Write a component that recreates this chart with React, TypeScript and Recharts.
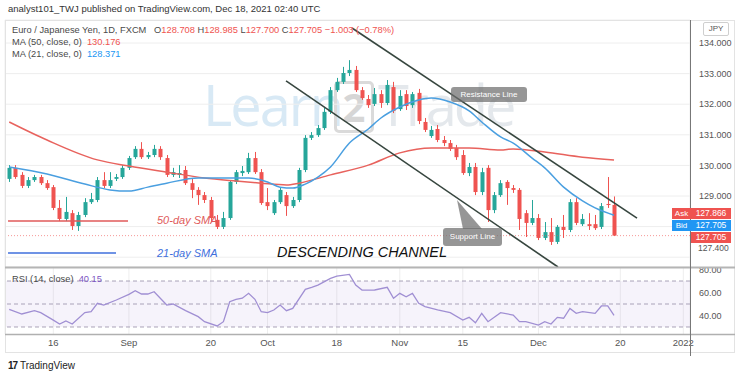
import React from 'react';
import { ComposedChart, Bar, Line, XAxis, YAxis, CartesianGrid, ReferenceLine, ReferenceArea } from 'recharts';

// ---- candles (Aug 5 2021 .. Dec 17 2021, daily) ----
const opens = [
  129.56, 129.92, 129.69, 129.33, 129.52, 129.62, 129.42, 129.29, 128.61, 128.25,
  128.44, 128.02, 128.38, 128.80, 128.87, 129.52, 129.33, 129.56, 129.62, 129.92,
  130.27, 130.54, 130.27, 130.34, 130.54, 130.24, 129.69, 129.69, 129.85, 129.42,
  129.20, 129.03, 128.87, 128.22, 127.99, 128.28, 129.46, 129.75, 129.78, 130.24,
  129.78, 128.80, 128.44, 128.80, 129.03, 128.67, 128.87, 129.85, 130.90, 130.99,
  131.22, 131.75, 132.46, 132.73, 133.02, 133.12, 132.46, 132.17, 132.01, 132.33,
  132.04, 132.56, 131.84, 132.33, 131.97, 132.37, 131.42, 130.96, 131.19, 130.83,
  130.73, 130.57, 130.34, 129.75, 129.95, 129.13, 129.92, 128.54, 129.03, 129.46,
  129.26, 129.20, 128.44, 128.12, 128.28, 127.63, 127.82, 127.50, 127.99, 127.89,
  128.80, 128.08, 128.08, 128.08, 127.99, 128.74, 128.708,
];
const highs = [
  130.01, 130.01, 129.78, 129.62, 129.69, 129.69, 129.52, 129.36, 128.87, 128.97,
  128.54, 128.48, 128.93, 129.10, 129.62, 129.78, 129.78, 129.72, 130.01, 130.31,
  130.63, 130.76, 130.44, 130.67, 130.63, 130.34, 129.92, 130.01, 129.98, 129.59,
  129.29, 129.13, 128.97, 128.38, 128.48, 129.52, 129.85, 129.98, 130.41, 130.44,
  129.88, 129.26, 128.87, 129.29, 129.13, 128.97, 129.92, 130.99, 131.09, 131.32,
  131.88, 132.56, 132.86, 133.22, 133.44, 133.25, 132.56, 132.30, 132.53, 132.46,
  132.79, 132.73, 132.46, 132.46, 132.40, 132.50, 131.55, 131.29, 131.32, 130.96,
  130.83, 130.67, 130.50, 130.08, 130.08, 129.92, 130.01, 129.13, 129.52, 129.52,
  129.36, 129.26, 128.54, 128.87, 128.41, 128.15, 128.28, 128.05, 128.38, 128.90,
  128.93, 128.41, 128.44, 128.38, 128.77, 129.62, 128.985,
];
const lows = [
  129.46, 129.56, 129.26, 129.26, 129.46, 129.36, 129.20, 128.54, 128.18, 128.18,
  127.89, 127.86, 128.31, 128.74, 128.80, 129.26, 129.26, 129.49, 129.56, 129.85,
  130.21, 130.21, 130.21, 130.27, 130.18, 129.62, 129.62, 129.59, 129.36, 128.93,
  128.71, 128.77, 128.15, 127.92, 127.92, 128.22, 129.39, 129.65, 129.72, 129.72,
  128.71, 128.54, 128.38, 128.74, 128.35, 128.61, 128.80, 129.78, 130.83, 130.93,
  131.16, 131.68, 132.40, 132.66, 132.92, 132.40, 132.14, 131.88, 131.94, 131.88,
  131.97, 131.71, 131.78, 131.81, 131.88, 131.35, 131.09, 130.90, 130.76, 130.63,
  130.47, 130.18, 129.69, 129.65, 129.03, 129.03, 128.15, 128.44, 128.97, 128.71,
  129.10, 127.89, 127.66, 128.05, 127.56, 127.56, 127.40, 127.43, 127.63, 127.82,
  128.05, 128.02, 127.89, 127.89, 127.92, 128.61, 127.700,
];
const closes = [
  129.92, 129.62, 129.33, 129.52, 129.62, 129.42, 129.26, 128.61, 128.25, 128.48,
  128.02, 128.38, 128.80, 128.90, 129.52, 129.33, 129.52, 129.62, 129.92, 130.24,
  130.54, 130.27, 130.34, 130.54, 130.27, 129.69, 129.78, 129.75, 129.42, 129.20,
  129.03, 128.87, 128.28, 127.99, 128.28, 129.46, 129.78, 129.82, 130.24, 129.78,
  128.77, 128.67, 128.80, 129.20, 128.67, 128.87, 129.85, 130.90, 130.99, 131.22,
  131.75, 132.46, 132.73, 133.02, 133.12, 132.46, 132.20, 131.97, 132.33, 132.04,
  132.63, 131.78, 132.27, 131.94, 132.33, 131.45, 131.16, 131.16, 130.83, 130.73,
  130.54, 130.27, 129.75, 129.95, 129.13, 129.78, 128.54, 129.03, 129.42, 129.26,
  129.20, 128.25, 128.12, 128.28, 127.63, 127.82, 127.50, 127.99, 127.89, 128.80,
  128.12, 128.25, 128.02, 127.95, 128.67, 128.71, 127.705,
];

// ---- moving averages (read at selected candles) ----
const ma50Idx = [0, 6, 14, 19, 25, 31, 36, 40, 44, 46, 51, 57, 62, 67, 73, 78, 80, 85, 91, 96];
const ma50Val = [131.42, 130.83, 130.18, 129.98, 129.78, 129.59, 129.49, 129.42, 129.36, 129.42, 129.69, 130.01, 130.41, 130.57, 130.57, 130.50, 130.54, 130.44, 130.27, 130.176];
const ma21Idx = [0, 6, 12, 16, 19, 22, 25, 30, 35, 38, 41, 43, 45, 47, 49, 51, 54, 57, 59, 62, 65, 67, 70, 73, 75, 78, 80, 83, 85, 88, 91, 93, 96];
const ma21Val = [129.95, 129.72, 129.39, 129.20, 129.16, 129.29, 129.42, 129.59, 129.59, 129.59, 129.46, 129.29, 129.26, 129.39, 129.62, 129.95, 130.73, 131.19, 131.55, 131.91, 132.14, 132.20, 132.07, 131.78, 131.42, 130.93, 130.73, 130.24, 129.92, 129.29, 128.84, 128.61, 128.371];

// ---- RSI(14) ----
const rsiIdx = [0,2,4,5,7,8,9,10,12,13,14,15,17,19,20,21,22,23,25,26,28,30,31,33,34,35,36,37,38,39,40,41,42,43,44,45,47,48,49,51,52,54,55,56,57,58,60,61,62,63,64,65,66,68,70,72,73,74,75,76,78,80,81,82,84,85,86,87,88,89,90,91,93,94,95,96];
const rsiVal = [45.4,41.3,44.2,42.5,36,32.6,35.2,32.6,42.5,43.3,50.6,49.1,53.5,58.4,61.6,58.7,58.7,60.7,49.1,50,44.2,39,34.6,30.9,34.6,52,54.1,55,59.3,54.1,43.3,42.5,44.8,49.1,44.2,46.2,62.8,64.5,66.5,72.3,74.3,75.8,66.5,62.2,62,62.2,64.5,55,59.3,56.3,59.3,50.6,47.7,44.8,42.5,36.1,38.4,33.7,41.9,34.6,42.5,40.4,34.6,34.6,31.7,34.6,32.6,38.4,37.6,46.2,41.9,43.3,41.9,48.3,48.3,40.15];

// ---- axes ----
const timeTickIdx = [7, 19, 32, 41, 52, 62, 72, 84, 97, 107];
const timeTickLabels = ['16', 'Sep', '20', 'Oct', '18', 'Nov', '15', 'Dec', '20', '2022'];
const priceTicks = [127, 128, 129, 130, 131, 132, 133, 134];
const priceLabelTicks = [129, 130, 131, 132, 133, 134];
const rsiTicks = [40, 60, 80];

// ---- drawn annotations (data coordinates) ----
const upperChannel = [{ x: 54.41, y: 134.49 }, { x: 99.65, y: 128.28 }];
const lowerChannel = [{ x: 43.94, y: 132.76 }, { x: 87.11, y: 126.68 }];
const ma50Legend = [{ x: -0.19, y: 128.18 }, { x: 18.86, y: 128.18 }];
const ma21Legend = [{ x: -0.19, y: 127.14 }, { x: 16.95, y: 127.14 }];
const lastPrice = 127.705;

const X_DOMAIN: [number, number] = [-0.67, 108.06];
const PRICE_DOMAIN: [number, number] = [126.68, 134.752];
const RSI_DOMAIN: [number, number] = [23.9, 82.2];

const UP = '#26a69a';
const DOWN = '#ef5350';
const FONT = '"Liberation Sans", Arial, sans-serif';

const priceData = opens.map((o, i) => {
  const k50 = ma50Idx.indexOf(i);
  const k21 = ma21Idx.indexOf(i);
  return {
    i, o, h: highs[i], l: lows[i], c: closes[i],
    ma50: k50 >= 0 ? ma50Val[k50] : null,
    ma21: k21 >= 0 ? ma21Val[k21] : null,
  };
});
const rsiData = rsiIdx.map((i, k) => ({ i, rsi: rsiVal[k] }));

const Candle = (props: any) => {
  const { x, y, width, height, payload } = props;
  if (!payload || height == null || isNaN(y)) return null;
  const { o, h, l, c } = payload;
  const color = c >= o ? UP : DOWN;
  const span = h - l || 1;
  const py = (v: number) => y + ((h - v) / span) * height;
  const cx = Math.round(x + width / 2) + 0.5;
  const top = py(Math.max(o, c));
  const bot = py(Math.min(o, c));
  return (
    <g>
      <line x1={cx} x2={cx} y1={y} y2={y + height} stroke={color} strokeWidth={1} />
      <rect x={cx - width / 2} y={top} width={width} height={Math.max(1, bot - top)} fill={color} />
    </g>
  );
};

const abs = (left: number, top: number, extra: React.CSSProperties = {}): React.CSSProperties => ({
  position: 'absolute', left, top, whiteSpace: 'nowrap', ...extra,
});

export default function App() {
  return (
    <div style={{ position: 'absolute', left: 0, top: 0, width: 740, height: 377, background: '#fff', fontFamily: FONT, overflow: 'hidden' }}>
      {/* header */}
      <div style={abs(8, 3, { fontSize: 9.5, color: '#333', lineHeight: '12px' })}>
        analyst101_TWJ published on TradingView.com, Dec 18, 2021 02:40 UTC
      </div>

      {/* watermark */}
      <div style={abs(203, 66, { fontSize: 56, color: '#d8e9f5', fontFamily: '"Open Sans", sans-serif', letterSpacing: -2 })}>Learn</div>
      <div style={abs(334, 81, { width: 34, height: 46, border: '3px solid #dadada', borderRadius: 5, color: '#d6d6d6', fontSize: 40, lineHeight: '46px', textAlign: 'center', fontFamily: '"Open Sans", sans-serif', fontWeight: 700 })}>2</div>
      <div style={abs(378, 66, { fontSize: 56, color: '#e4e8ec', fontFamily: '"Open Sans", sans-serif', letterSpacing: -3 })}>Trade</div>

      {/* price pane */}
      <div style={{ position: 'absolute', left: 0, top: 0 }}>
        <ComposedChart width={740} height={377} data={priceData} margin={{ top: 20, right: 5, bottom: 110, left: 5 }}>
          <CartesianGrid stroke="#eeeeee" />
          <XAxis type="number" dataKey="i" domain={X_DOMAIN} ticks={timeTickIdx} allowDataOverflow height={0} tick={false} axisLine={false} tickLine={false} />
          <YAxis orientation="right" width={45} domain={PRICE_DOMAIN} ticks={priceTicks} allowDataOverflow
            tickFormatter={(v: number) => (priceLabelTicks.includes(v) ? v.toFixed(3) : '')}
            tick={{ fontSize: 9, fill: '#555' }} tickSize={0} tickMargin={9} axisLine={false} tickLine={false} />
          <ReferenceLine y={lastPrice} stroke={DOWN} strokeDasharray="1 2" strokeOpacity={0.6} />
          <ReferenceLine segment={ma50Legend} stroke="#e05a5a" strokeWidth={1.5} ifOverflow="visible" />
          <ReferenceLine segment={ma21Legend} stroke="#3f6fdc" strokeWidth={1.5} ifOverflow="visible" />
          <Bar dataKey={(d: any) => [d.l, d.h]} barSize={4} shape={(p: any) => <Candle {...p} />} isAnimationActive={false} />
          <Line type="monotone" dataKey="ma50" stroke="#e8625d" strokeWidth={1.5} dot={false} connectNulls isAnimationActive={false} />
          <Line type="monotone" dataKey="ma21" stroke="#4a9fe0" strokeWidth={1.5} dot={false} connectNulls isAnimationActive={false} />
          <ReferenceLine segment={upperChannel} stroke="#37463f" strokeWidth={1.6} ifOverflow="visible" />
          <ReferenceLine segment={lowerChannel} stroke="#37463f" strokeWidth={1.6} ifOverflow="visible" />
        </ComposedChart>
      </div>

      {/* RSI pane */}
      <div style={{ position: 'absolute', left: 0, top: 0 }}>
        <ComposedChart width={740} height={377} data={rsiData} margin={{ top: 267, right: 5, bottom: 26, left: 5 }}>
          <ReferenceArea y1={30} y2={70} fill="#7e57c2" fillOpacity={0.07} stroke="none" ifOverflow="visible" />
          <CartesianGrid stroke="#eeeeee" horizontal={false} />
          <XAxis type="number" dataKey="i" domain={X_DOMAIN} ticks={timeTickIdx} allowDataOverflow height={17}
            tickFormatter={(v: number) => timeTickLabels[timeTickIdx.indexOf(v)] ?? ''}
            tick={{ fontSize: 9.5, fill: '#555' }} tickSize={0} tickMargin={5} axisLine={false} tickLine={false} interval={0} />
          <YAxis orientation="right" width={45} domain={RSI_DOMAIN} ticks={rsiTicks} allowDataOverflow
            tickFormatter={(v: number) => v.toFixed(2)}
            tick={{ fontSize: 9, fill: '#555' }} tickSize={0} tickMargin={9} axisLine={false} tickLine={false} />
          <ReferenceLine y={70} stroke="#a9a2b8" strokeDasharray="4 3" />
          <ReferenceLine y={50} stroke="#a9a2b8" strokeDasharray="4 3" />
          <ReferenceLine y={30} stroke="#a9a2b8" strokeDasharray="4 3" />
          <Line type="linear" dataKey="rsi" stroke="#a08fd3" strokeWidth={1.3} dot={false} connectNulls isAnimationActive={false} />
        </ComposedChart>
      </div>

      {/* frame & separators */}
      <svg width={740} height={377} style={{ position: 'absolute', left: 0, top: 0, pointerEvents: 'none' }}>
        <rect x={5.5} y={20.5} width={729} height={332} fill="none" stroke="#e3e3e3" />
        <line x1={5} x2={735} y1={267.5} y2={267.5} stroke="#b5b5b5" strokeWidth={2} />
        <line x1={5} x2={735} y1={334.5} y2={334.5} stroke="#b0b0b0" strokeWidth={1.5} />
        <line x1={690.5} x2={690.5} y1={20} y2={356} stroke="#777" strokeWidth={1} />
        <polygon points="457,200 463,229 482,229" fill="rgba(110,110,110,0.72)" />
      </svg>

      {/* legends */}
      <div style={abs(12, 24, { fontSize: 9.3, color: '#4a4a4a', lineHeight: '12px' })}>
        Euro / Japanese Yen, 1D, FXCM&nbsp;&nbsp;
        O<span style={{ color: DOWN }}>128.708</span> H<span style={{ color: DOWN }}>128.985</span> L<span style={{ color: DOWN }}>127.700</span> C<span style={{ color: DOWN }}>127.705</span> <span style={{ color: DOWN }}>−1.003 (−0.78%)</span>
      </div>
      <div style={abs(12, 36, { fontSize: 9.3, color: '#4a4a4a', lineHeight: '12px' })}>
        MA (50, close, 0)&nbsp;&nbsp;<span style={{ color: DOWN }}>130.176</span>
      </div>
      <div style={abs(12, 48, { fontSize: 9.3, color: '#4a4a4a', lineHeight: '12px' })}>
        MA (21, close, 0)&nbsp;&nbsp;<span style={{ color: '#2196f3' }}>128.371</span>
      </div>
      <div style={abs(12, 273, { fontSize: 9.3, color: '#4a4a4a', lineHeight: '12px' })}>
        RSI (14, close)&nbsp;&nbsp;<span style={{ color: '#7e57c2' }}>40.15</span>
      </div>

      {/* chart annotations */}
      <div style={abs(157, 213, { fontSize: 11, fontStyle: 'italic', color: '#e05a5a', lineHeight: '14px' })}>50-day SMA</div>
      <div style={abs(157, 246, { fontSize: 11, fontStyle: 'italic', color: '#3f6fdc', lineHeight: '14px' })}>21-day SMA</div>
      <div style={abs(277, 243, { fontSize: 14.5, fontStyle: 'italic', color: '#111', lineHeight: '18px' })}>DESCENDING CHANNEL</div>
      <div style={abs(451, 87, { width: 76, height: 15, background: 'rgba(110,110,110,0.72)', borderRadius: 3, color: '#fff', fontSize: 8, lineHeight: '15px', textAlign: 'center' })}>Resistance Line</div>
      <div style={abs(443, 228, { width: 59, height: 18, background: 'rgba(110,110,110,0.72)', borderRadius: 3, color: '#fff', fontSize: 8, lineHeight: '18px', textAlign: 'center' })}>Support Line</div>

      {/* right scale extras */}
      <div style={abs(703, 22, { width: 24, height: 12, border: '1px solid #cfcfcf', borderRadius: 2, fontSize: 8, lineHeight: '12px', color: '#555', textAlign: 'center' })}>JPY</div>
      <div style={abs(698, 244, { fontSize: 8.5, color: '#555', lineHeight: '9px' })}>127.400</div>
      <div style={abs(672, 208, { width: 19, height: 11, background: DOWN, color: '#fff', fontSize: 8, lineHeight: '11px', textAlign: 'center' })}>Ask</div>
      <div style={abs(691, 208, { width: 40, height: 11, background: DOWN, color: '#fff', fontSize: 8.5, lineHeight: '11px', textAlign: 'center' })}>127.866</div>
      <div style={abs(672, 220, { width: 19, height: 11, background: '#2196f3', color: '#fff', fontSize: 8, lineHeight: '11px', textAlign: 'center' })}>Bid</div>
      <div style={abs(691, 220, { width: 40, height: 11, background: '#2196f3', color: '#fff', fontSize: 8.5, lineHeight: '11px', textAlign: 'center' })}>127.705</div>
      <div style={abs(691, 232, { width: 40, height: 11, background: DOWN, color: '#fff', fontSize: 8.5, lineHeight: '11px', textAlign: 'center' })}>127.705</div>

      {/* footer logo */}
      <div style={abs(8, 360, { fontSize: 10, color: '#222', lineHeight: '12px' })}>
        <span style={{ fontWeight: 900, letterSpacing: -1 }}>17</span>&nbsp;TradingView
      </div>
    </div>
  );
}
